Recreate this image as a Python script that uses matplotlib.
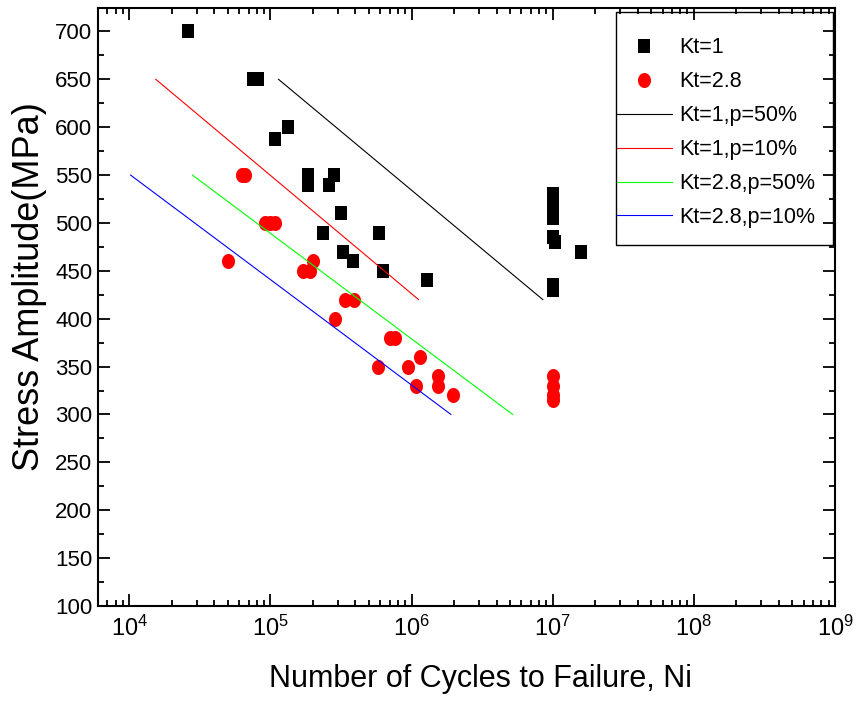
import numpy as np
import matplotlib
matplotlib.use("Agg")
import matplotlib.pyplot as plt
from matplotlib.patches import Rectangle
from matplotlib.ticker import LogLocator, MultipleLocator, NullFormatter

plt.rcParams['font.family'] = ['Liberation Sans', 'DejaVu Sans']

# Kt=1 test points (cycles, MPa)
kt1_n = [2.6e4, 7.5e4, 8.2e4, 1.08e5, 1.34e5, 1.85e5, 1.85e5, 2.6e5, 2.8e5,
         3.15e5, 2.34e5, 5.9e5, 3.28e5, 3.86e5, 6.25e5, 1.29e6,
         1e7, 1e7, 1e7, 1e7, 1.03e7, 1.58e7, 1e7, 1e7]
kt1_s = [700, 650, 650, 588, 600, 550, 540, 540, 550,
         510, 490, 490, 470, 460, 450, 440,
         530, 520, 505, 485, 480, 470, 435, 430]

# Kt=2.8 test points
kt28_n = [5e4, 6.3e4, 6.6e4, 9.2e4, 1.0e5, 1.07e5, 1.7e5, 1.9e5, 2.0e5,
          2.88e5, 3.4e5, 3.9e5, 5.8e5, 7e5, 7.6e5, 9.5e5, 1.07e6, 1.15e6,
          1.55e6, 1.55e6, 1.95e6, 1e7, 1e7, 1e7, 1e7]
kt28_s = [460, 550, 550, 500, 500, 500, 450, 450, 460,
          400, 420, 420, 350, 380, 380, 350, 330, 360,
          340, 330, 320, 340, 330, 320, 315]

# fitted P-S-N lines (end points)
kt1_p50_n = [1.14e5, 8.5e6]
kt1_p50_s = [650, 420]
kt1_p10_n = [1.54e4, 1.12e6]
kt1_p10_s = [650, 420]
kt28_p50_n = [2.8e4, 5.2e6]
kt28_p50_s = [550, 300]
kt28_p10_n = [1.02e4, 1.9e6]
kt28_p10_s = [550, 300]

# slightly tall markers, like the original export
sq = [(-0.44, -0.5), (0.44, -0.5), (0.44, 0.5), (-0.44, 0.5), (-0.44, -0.5)]
t = np.linspace(0, 2 * np.pi, 40)
ell = list(zip(0.87 * np.cos(t), np.sin(t)))

fig = plt.figure(figsize=(8.57, 7.08), dpi=100)
ax = fig.add_axes([0.1144, 0.1441, 0.8599, 0.8453])

ax.plot(kt1_n, kt1_s, ls='none', marker=sq, ms=9.4, color='black', mew=0, label='Kt=1')
ax.plot(kt28_n, kt28_s, ls='none', marker=ell, ms=10.8, color='#ff0000', mew=0, label='Kt=2.8')
ax.plot(kt1_p50_n, kt1_p50_s, color='black', lw=0.8, label='Kt=1,p=50%')
ax.plot(kt1_p10_n, kt1_p10_s, color='#ff0000', lw=0.8, label='Kt=1,p=10%')
ax.plot(kt28_p50_n, kt28_p50_s, color='#00ff00', lw=0.8, label='Kt=2.8,p=50%')
ax.plot(kt28_p10_n, kt28_p10_s, color='#0000ff', lw=0.8, label='Kt=2.8,p=10%')

ax.set_xscale('log')
ax.set_xlim(6000, 1e9)
ax.set_ylim(100, 725)
ax.xaxis.set_major_locator(LogLocator(base=10, numticks=12))
ax.xaxis.set_minor_locator(LogLocator(base=10, subs=np.arange(2, 10), numticks=12))
ax.xaxis.set_minor_formatter(NullFormatter())
ax.yaxis.set_major_locator(MultipleLocator(50))
ax.yaxis.set_minor_locator(MultipleLocator(25))

ax.tick_params(which='both', direction='in', top=True, right=True, width=1.3, colors='black')
ax.tick_params(which='major', length=8.5)
ax.tick_params(which='minor', length=4.5)
ax.tick_params(axis='y', labelsize=16, pad=4)
ax.tick_params(axis='x', labelsize=17, pad=7)
for sp in ax.spines.values():
    sp.set_linewidth(1.5)

ax.set_xlabel('Number of Cycles to Failure, Ni', fontsize=22)
ax.set_ylabel('Stress Amplitude(MPa)', fontsize=26)
ax.xaxis.set_label_coords(0.519, -0.097)
ax.yaxis.set_label_coords(-0.069, 0.533)

# legend frame drawn separately (tall padding, tight sides)
ax.add_patch(Rectangle((0.703, 0.603), 0.2945, 0.3895, transform=ax.transAxes,
                       fill=False, edgecolor='black', lw=1.0, zorder=5))
ax.legend(loc='upper left', bbox_to_anchor=(0.704, 0.95), frameon=False,
          fontsize=15.5, handlelength=2.56, handletextpad=0.33, labelspacing=0.6,
          borderpad=0, borderaxespad=0, numpoints=1)

plt.savefig('out.png', dpi=100)
